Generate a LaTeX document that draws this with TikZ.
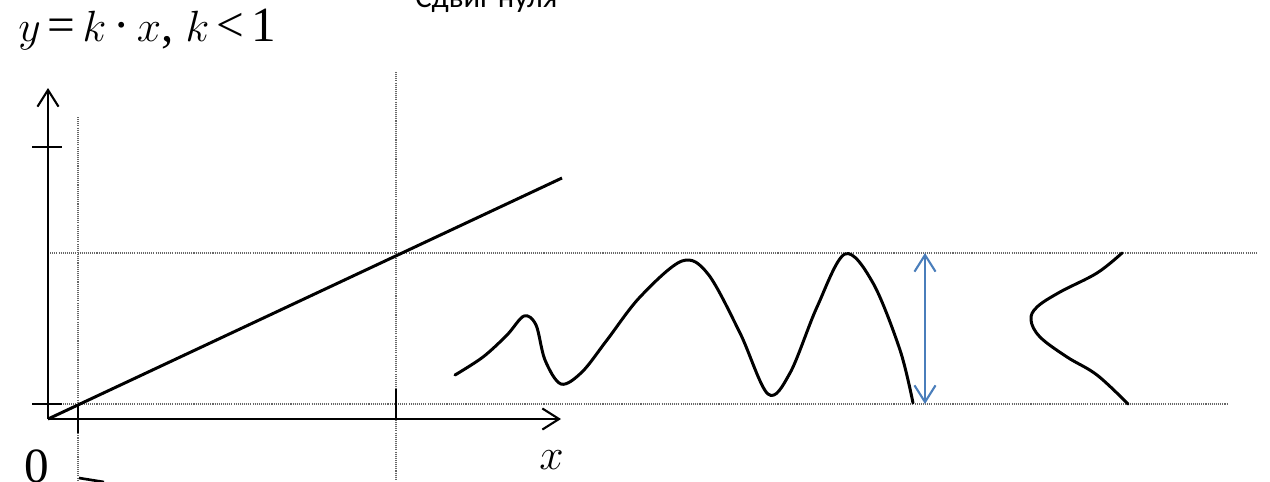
\documentclass[tikz,border=0pt]{standalone}
\usepackage{fontspec}
\setmainfont{Liberation Serif}
\newfontfamily\carlitofont{Carlito}
\usetikzlibrary{arrows.meta}
\definecolor{arrowblue}{HTML}{4A7EBB}
\tikzset{
  axis/.style={line width=1.2pt, -{Straight Barb[length=9.5pt,width=12pt]}},
  tickline/.style={line width=1.2pt},
  guide/.style={line width=0.6pt, gray!80!black, dash pattern=on 0.6pt off 0.6pt},
  thickcurve/.style={line width=1.7pt, line join=round, line cap=round},
  span/.style={line width=1.2pt, arrowblue, {Straight Barb[length=9.5pt,width=12pt]}-{Straight Barb[length=9.5pt,width=12pt]}},
  mathlabel/.style={inner sep=0pt, anchor=base west, font=\fontsize{28}{30}\selectfont}
}
\begin{document}
\begin{tikzpicture}[x=0.02cm,y=-0.02cm]
\useasboundingbox (0,0) rectangle (1270,481);
\clip (0,0) rectangle (1270,481);
% key coordinates
\coordinate (O) at (48,419);
\coordinate (Ytip) at (48,88);
\coordinate (Xtip) at (561,419);
\coordinate (LineEnd) at (562,178);
% guides
\coordinate (g1a) at (78,117);  \coordinate (g1b) at (78,481);
\coordinate (g2a) at (396,72);  \coordinate (g2b) at (396,481);
\coordinate (g3a) at (48,253);  \coordinate (g3b) at (1258,253);
\coordinate (g4a) at (48,404);  \coordinate (g4b) at (1227,404);
\draw[guide] (g1a) -- (g1b);
\draw[guide] (g2a) -- (g2b);
\draw[guide] (g3a) -- (g3b);
\draw[guide] (g4a) -- (g4b);
% axes
\draw[axis] (O) -- (Ytip);
\draw[axis] (O) -- (Xtip);
% ticks
\coordinate (t1a) at (32,147); \coordinate (t1b) at (62,147);
\coordinate (t2a) at (32,404); \coordinate (t2b) at (62,404);
\coordinate (t3a) at (78,406); \coordinate (t3b) at (78,433);
\coordinate (t4a) at (396,389); \coordinate (t4b) at (396,419);
\draw[tickline] (t1a) -- (t1b);
\draw[tickline] (t2a) -- (t2b);
\draw[tickline] (t3a) -- (t3b);
\draw[tickline] (t4a) -- (t4b);
% characteristic line
\draw[thickcurve, line cap=butt] (O) -- (LineEnd);
% signal
\draw[thickcurve] plot[smooth, tension=0.55] coordinates {
 (455,375) (483,357) (507,335) (524,316) (536,325) (545,360) (561,384)
 (582,372) (607,340) (640,297) (682,261) (708,274) (740,333) (768,394)
 (790,373) (817,307) (845,254) (873,283) (900,350) (913,403)};
% distribution
\draw[thickcurve] plot[smooth, tension=0.6] coordinates {
 (1122,253) (1097,273) (1060,292) (1037,307) (1031,320) (1040,337)
 (1067,357) (1097,375) (1128,404)};
% span arrow
\coordinate (sa) at (925,253); \coordinate (sb) at (925,404);
\draw[span] (sa) -- (sb);
% small cut-off stroke at bottom
\coordinate (c1) at (79,478); \coordinate (c2) at (104,482);
\draw[line width=1.5pt] (c1) -- (c2);
% texts
\node[mathlabel] (title) at (18,41) {$y$\kern4pt=\kern4pt$k$\kern4pt·\kern4pt$x$, $k$\kern4pt<\kern4pt1};
\node[mathlabel] (xlab) at (539,469) {$x$};
\node[mathlabel] (zero) at (24,482) {0};
\node[inner sep=0pt, anchor=base west, font=\carlitofont\fontsize{17.5}{20}\selectfont] (shift) at (415,7) {Сдвиг нуля};
\end{tikzpicture}
\end{document}
